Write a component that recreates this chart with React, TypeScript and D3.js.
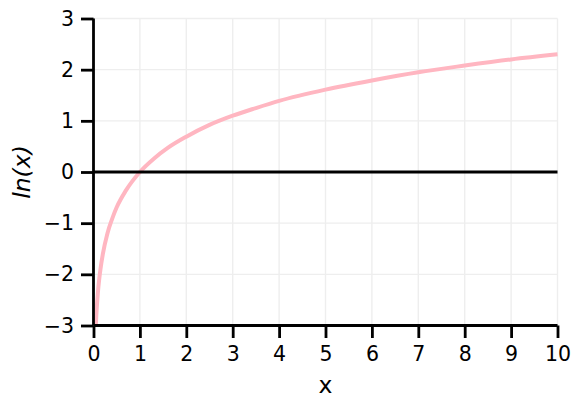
import * as React from 'react'
import * as d3 from 'd3'

// points
const xValues = [0.05, 0.06, 0.07, 0.08, 0.1, 0.12, 0.15, 0.2, 0.3, 0.4, 0.5, 0.7, 1, 1.3, 1.6, 2, 2.5, 3, 3.5, 4, 5, 6, 7, 8, 9, 10]
const yValues = [-3.0, -2.81, -2.66, -2.53, -2.3, -2.12, -1.9, -1.61, -1.2, -0.92, -0.69, -0.36, 0, 0.26, 0.47, 0.69, 0.92, 1.1, 1.25, 1.39, 1.61, 1.79, 1.95, 2.08, 2.2, 2.3]
const xTicks = [0, 1, 2, 3, 4, 5, 6, 7, 8, 9, 10]
const yTicks = [-3, -2, -1, 0, 1, 2, 3]

const dims = { width: 582, height: 406, left: 93.5, right: 557.5, top: 18.5, bottom: 325.5 }
const font = 'DejaVu Sans, sans-serif'

function drawChart(svg: d3.Selection<SVGSVGElement, unknown, null, undefined>) {
	svg.selectAll('*').remove()

	const x = d3.scaleLinear().domain([0, 10]).range([dims.left, dims.right])
	const y = d3.scaleLinear().domain([-3, 3]).range([dims.bottom, dims.top])

	const grid = svg.append('g')
	grid.selectAll('line.vx')
		.data(xTicks)
		.enter()
		.append('line')
		.attr('x1', d => x(d)).attr('x2', d => x(d))
		.attr('y1', dims.top).attr('y2', dims.bottom)
		.attr('stroke', '#eeeeee').attr('stroke-width', 1.4)
	grid.selectAll('line.hy')
		.data(yTicks)
		.enter()
		.append('line')
		.attr('x1', dims.left).attr('x2', dims.right)
		.attr('y1', d => y(d)).attr('y2', d => y(d))
		.attr('stroke', '#eeeeee').attr('stroke-width', 1.4)

	const pts = xValues.map((v, i) => [v, yValues[i]] as [number, number])
	const line = d3.line<[number, number]>()
		.x(d => x(d[0]))
		.y(d => y(d[1]))
		.curve(d3.curveMonotoneX)

	svg.append('path')
		.attr('d', line(pts)!)
		.attr('fill', 'none')
		.attr('stroke', '#ffb6c1')
		.attr('stroke-width', 4)

	// zero line
	svg.append('line')
		.attr('x1', dims.left).attr('x2', dims.right)
		.attr('y1', y(0)).attr('y2', y(0))
		.attr('stroke', 'black').attr('stroke-width', 2.8)

	const xAxis = d3.axisBottom(x).tickValues(xTicks).tickSize(12.5).tickPadding(8).tickFormat(d => `${d}`)
	const yAxis = d3.axisLeft(y).tickValues(yTicks).tickSize(12.5).tickPadding(7).tickFormat(d => d3.format('')(d as number).replace('-', '\u2212'))

	const xg = svg.append('g')
		.attr('transform', `translate(0, ${dims.bottom})`)
		.call(xAxis)
	const yg = svg.append('g')
		.attr('transform', `translate(${dims.left}, 0)`)
		.call(yAxis)

	for (const g of [xg, yg]) {
		g.select('.domain').attr('stroke', 'black').attr('stroke-width', 2.8)
		g.selectAll('.tick line').attr('stroke', 'black').attr('stroke-width', 2.8)
		g.selectAll('.tick text')
			.attr('fill', 'black')
			.style('font-family', font)
			.style('font-size', '20.5px')
	}
	xg.select('.domain').attr('d', `M${dims.left},0H${dims.right}`)
	yg.select('.domain').attr('d', `M0,${dims.bottom}V${dims.top}`)

	svg.append('text')
		.attr('x', x(5))
		.attr('y', 392.5)
		.attr('text-anchor', 'middle')
		.style('font-family', font)
		.style('font-size', '23.5px')
		.text('x')

	svg.append('text')
		.attr('transform', `translate(30, ${y(0)}) rotate(-90)`)
		.attr('text-anchor', 'middle')
		.style('font-family', font)
		.style('font-size', '23.5px')
		.style('font-style', 'italic')
		.text('ln(x)')
}

const App: React.FC = () => {
	const svgRef = React.useRef<SVGSVGElement>(null)

	React.useEffect(() => {
		document.body.style.margin = '0'
		drawChart(d3.select(svgRef.current!))
	}, [])

	return (
		<svg ref={svgRef} width={dims.width} height={dims.height} style={{ display: 'block', background: 'white' }} />
	)
}

export default App
